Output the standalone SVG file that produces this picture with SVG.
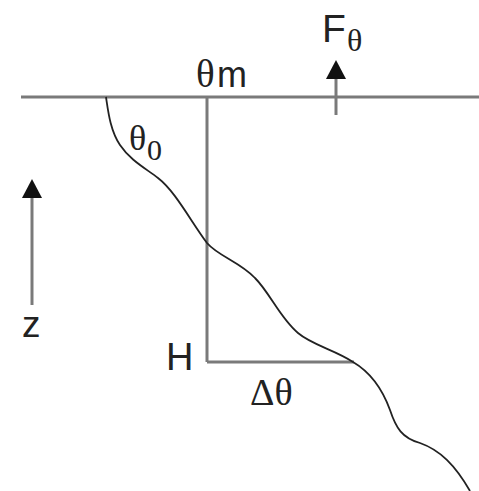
<svg xmlns="http://www.w3.org/2000/svg" width="479" height="491" viewBox="0 0 479 491">
<style>
.ln{stroke:#7a7a7a;stroke-width:3;fill:none}
.cv{stroke:#222;stroke-width:1.8;fill:none}
.s{font-family:"Liberation Sans",Arial,sans-serif;fill:#222}
.r{font-family:"Liberation Serif","Times New Roman",serif;fill:#222}
</style>
<defs>
<marker id="ah" viewBox="0 0 20 20" refX="2" refY="10" markerWidth="20" markerHeight="20" markerUnits="userSpaceOnUse" orient="auto">
<polygon points="0,0 19,10 0,20" fill="#111"/>
</marker>
</defs>
<rect width="479" height="491" fill="#fff"/>
<g id="lines">
<line class="ln" x1="21" y1="97" x2="479" y2="97"/>
<line class="ln" x1="207" y1="97" x2="207" y2="362"/>
<line class="ln" x1="207" y1="362" x2="354" y2="362"/>
</g>
<g id="profile">
<path class="cv" d="M106,97 C108,110 110,130 120,145 C130,160 145,168 158,178 C175,191 190,220 207,243 C218,256 240,262 255,278 C270,293 280,318 298,333 C312,345 335,350 353,362 C370,372 382,388 390,410 C396,428 402,438 420,443 C440,450 455,465 470,491"/>
</g>
<g id="arrows">
<line class="ln" x1="336" y1="115" x2="336" y2="77" marker-end="url(#ah)"/>
<line class="ln" x1="32" y1="305" x2="32" y2="196" marker-end="url(#ah)"/>
</g>
<g id="labels">
<text class="r" x="196" y="87" font-size="39">θ</text><text class="s" x="217" y="87" font-size="36">m</text>
<text class="r" x="129" y="150" font-size="36">θ</text><text class="r" x="147" y="160" font-size="30">0</text>
<text class="s" x="322" y="42" font-size="39">F</text><text class="r" x="347" y="51" font-size="32">θ</text>
<text class="s" x="22" y="337" font-size="37">z</text>
<text class="s" x="166" y="370" font-size="38">H</text>
<text class="r" x="250" y="405" font-size="38">Δθ</text>
</g>
</svg>
